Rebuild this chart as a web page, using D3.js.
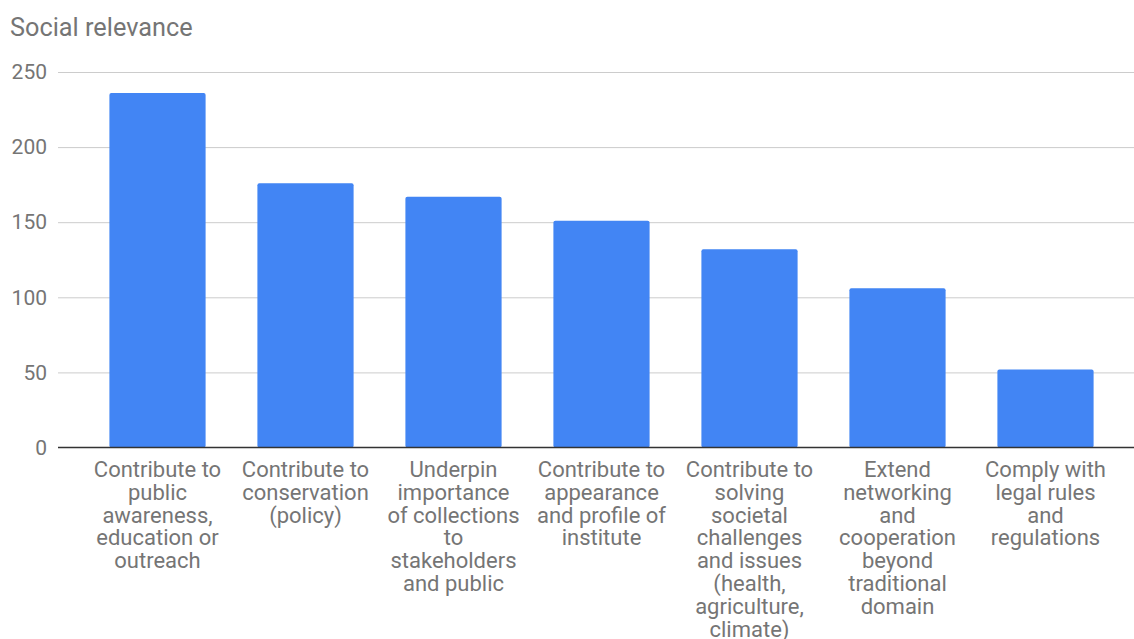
<!DOCTYPE html>
<html>
<head>
<meta charset="utf-8">
<script src="https://cdn.jsdelivr.net/npm/d3@7"></script>
<style>
  html, body { margin: 0; padding: 0; background: #fff; }
  svg { display: block; font-family: Roboto, "Noto Sans", Arial, sans-serif; }
</style>
</head>
<body>
<svg id="chart" width="1134" height="639"></svg>
<script>
// Category labels (line breaks mark how each label wraps under its bar)
const categories = [
  "Contribute to\npublic\nawareness,\neducation or\noutreach",
  "Contribute to\nconservation\n(policy)",
  "Underpin\nimportance\nof collections\nto\nstakeholders\nand public",
  "Contribute to\nappearance\nand profile of\ninstitute",
  "Contribute to\nsolving\nsocietal\nchallenges\nand issues\n(health,\nagriculture,\nclimate)",
  "Extend\nnetworking\nand\ncooperation\nbeyond\ntraditional\ndomain",
  "Comply with\nlegal rules\nand\nregulations"
];
const values = [236, 176, 167, 151, 132, 106, 52];
const yTicks = [0, 50, 100, 150, 200, 250];
const title = "Social relevance";

const svg = d3.select("#chart");
const W = 1134;

const gridLeft = 58, gridRight = W;
const x = d3.scaleBand()
  .domain(categories)
  .range([83.5, 1119.5])
  .paddingInner(0.35)
  .paddingOuter(0.175);

const y = d3.scaleLinear().domain([0, 250]).range([447.5, 72]);

// Title
svg.append("text")
  .attr("x", 10).attr("y", 36)
  .attr("fill", "#757575")
  .attr("font-size", 25.3)
  .text(title);

// Gridlines and y tick labels
const yAxis = d3.axisLeft(y).tickValues(yTicks).tickSize(-(gridRight - gridLeft)).tickPadding(11);
const gy = svg.append("g").attr("transform", `translate(${gridLeft},0)`).call(yAxis);
gy.select(".domain").remove();
gy.selectAll(".tick line").attr("stroke", "#cccccc").attr("stroke-width", 1)
  .attr("stroke-opacity", d => d === 0 ? 0 : 1);
gy.selectAll(".tick text")
  .attr("fill", "#757575")
  .attr("font-size", 21)
  .attr("font-family", "Roboto, 'Noto Sans', Arial, sans-serif");

// Bars
svg.append("g").selectAll("rect")
  .data(values)
  .join("rect")
  .attr("x", (d, i) => x(categories[i]))
  .attr("width", x.bandwidth())
  .attr("y", d => y(d))
  .attr("height", d => y(0) - y(d))
  .attr("rx", 2)
  .attr("fill", "#4285f4");

// Baseline
svg.append("line")
  .attr("x1", gridLeft).attr("x2", gridRight)
  .attr("y1", y(0)).attr("y2", y(0))
  .attr("stroke", "#333333").attr("stroke-width", 1.3);

// Category labels, wrapped onto several lines
const lineH = 22.8;
const labels = svg.append("g").selectAll("text")
  .data(categories)
  .join("text")
  .attr("text-anchor", "middle")
  .attr("fill", "#757575")
  .attr("font-size", 22)
  .attr("x", d => x(d) + x.bandwidth() / 2)
  .attr("y", 477);
labels.each(function(d) {
  const t = d3.select(this);
  const cx = x(d) + x.bandwidth() / 2;
  d.split("\n").forEach((line, i) => {
    t.append("tspan").attr("x", cx).attr("dy", i === 0 ? 0 : lineH).text(line);
  });
});
</script>
</body>
</html>
